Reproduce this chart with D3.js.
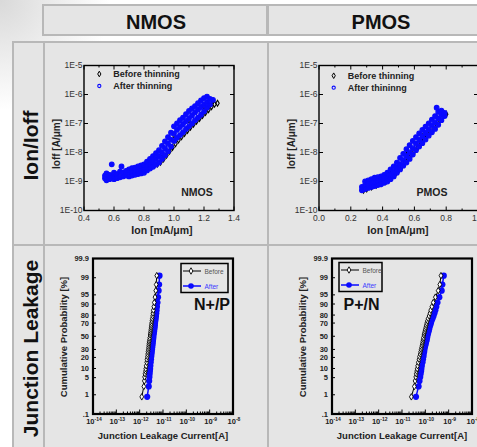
<!DOCTYPE html>
<html>
<head>
<meta charset="utf-8">
<script src="https://cdn.jsdelivr.net/npm/d3@7"></script>
<style>
body { margin: 0; background: #fff; }
svg { display: block; font-family: "Liberation Sans", Arial, sans-serif; }
</style>
</head>
<body>
<div id="main"></div>
<script>
var width = 477,
    height = 447;

// table headers
var columns = ["NMOS", "PMOS"];
var rows = ["Ion/Ioff", "Junction Leakage"];

// Ion/Ioff scatter: [Ion mA/um, Ioff A/um]
var nmosAfter = [
  [0.54,1.3e-9],[0.54,1.6e-9],[0.55,1.1e-9],[0.55,1.5e-9],[0.55,1.9e-9],
  [0.57,1.2e-9],[0.57,1.7e-9],[0.58,1.4e-9],[0.585,3.9e-9],
  [0.60,1.2e-9],[0.60,1.6e-9],[0.60,2.0e-9],[0.62,1.3e-9],[0.62,1.8e-9],
  [0.64,1.4e-9],[0.64,2.2e-9],[0.65,3.3e-9],[0.66,1.5e-9],[0.66,2.0e-9],
  [0.68,1.6e-9],[0.68,2.3e-9],[0.70,1.5e-9],[0.70,1.9e-9],[0.70,2.6e-9],
  [0.72,1.6e-9],[0.72,2.1e-9],[0.72,2.9e-9],[0.74,1.7e-9],[0.74,2.3e-9],[0.74,3.0e-9],
  [0.76,1.8e-9],[0.76,2.4e-9],[0.76,3.3e-9],[0.78,1.9e-9],[0.78,2.6e-9],[0.78,3.6e-9],
  [0.80,2.0e-9],[0.80,2.8e-9],[0.80,3.9e-9],[0.82,2.4e-9],[0.82,3.4e-9],[0.82,4.8e-9],
  [0.84,2.8e-9],[0.84,4.2e-9],[0.84,6.0e-9],[0.86,3.2e-9],[0.86,5.0e-9],[0.86,7.5e-9],
  [0.88,3.8e-9],[0.88,6.0e-9],[0.88,9.5e-9],[0.90,4.5e-9],[0.90,7.5e-9],[0.90,1.2e-8],
  [0.92,6.0e-9],[0.92,1.0e-8],[0.92,1.7e-8],[0.94,8.0e-9],[0.94,1.4e-8],[0.94,2.4e-8],
  [0.96,1.1e-8],[0.96,2.0e-8],[0.96,3.4e-8],[0.98,1.6e-8],[0.98,2.8e-8],[0.98,4.8e-8],
  [1.00,2.5e-8],[1.00,4.5e-8],[1.00,8.0e-8],[1.02,3.2e-8],[1.02,6.0e-8],[1.02,1.0e-7],
  [1.04,4.0e-8],[1.04,7.5e-8],[1.04,1.3e-7],[1.06,5.0e-8],[1.06,9.5e-8],[1.06,1.6e-7],
  [1.08,6.5e-8],[1.08,1.2e-7],[1.08,2.1e-7],[1.10,8.0e-8],[1.10,1.5e-7],[1.10,2.7e-7],
  [1.12,1.0e-7],[1.12,1.9e-7],[1.12,3.3e-7],[1.14,1.3e-7],[1.14,2.4e-7],[1.14,4.0e-7],
  [1.16,1.6e-7],[1.16,3.0e-7],[1.16,5.0e-7],[1.18,2.0e-7],[1.18,3.7e-7],[1.18,6.2e-7],
  [1.20,2.6e-7],[1.20,4.5e-7],[1.20,7.5e-7],[1.22,3.5e-7],[1.22,5.5e-7],[1.22,8.5e-7],
  [1.24,4.5e-7],[1.24,7.0e-7],[1.26,6.5e-7]
];
var nmosBefore = [
  [0.55,1.4e-9],[0.58,1.5e-9],[0.61,1.5e-9],[0.64,1.6e-9],[0.67,1.7e-9],
  [0.70,1.8e-9],[0.73,1.9e-9],[0.76,2.0e-9],[0.79,2.3e-9],[0.82,2.7e-9],[0.85,3.3e-9],
  [0.87,3.8e-9],[0.89,4.0e-9],[0.91,4.6e-9],[0.93,6.0e-9],[0.95,8.0e-9],[0.97,1.1e-8],
  [0.99,1.5e-8],[1.01,2.0e-8],[1.03,2.7e-8],[1.05,3.5e-8],[1.07,4.5e-8],[1.09,5.8e-8],
  [1.11,7.5e-8],[1.13,9.5e-8],[1.15,1.2e-7],[1.17,1.5e-7],[1.19,1.9e-7],[1.21,2.4e-7],
  [1.23,3.0e-7],[1.25,3.8e-7],[1.27,4.6e-7],[1.29,5.0e-7],[1.26,6.0e-7],
  [0.92,9.0e-9],[1.00,4.0e-8],[1.10,1.3e-7],[1.20,4.0e-7]
];
var pmosAfter = [
  [0.27,5.0e-10],[0.27,6.5e-10],[0.29,5.5e-10],[0.29,7.5e-10],[0.29,1.0e-9],
  [0.31,6.0e-10],[0.31,8.0e-10],[0.31,1.1e-9],[0.33,6.5e-10],[0.33,9.0e-10],[0.33,1.2e-9],
  [0.35,7.0e-10],[0.35,1.0e-9],[0.35,1.35e-9],[0.37,7.5e-10],[0.37,1.05e-9],[0.37,1.4e-9],
  [0.39,8.0e-10],[0.39,1.1e-9],[0.39,1.5e-9],[0.41,9.0e-10],[0.41,1.2e-9],[0.41,1.7e-9],
  [0.43,1.0e-9],[0.43,1.4e-9],[0.43,2.0e-9],[0.45,1.2e-9],[0.45,1.7e-9],[0.45,2.6e-9],
  [0.47,1.5e-9],[0.47,2.2e-9],[0.47,3.3e-9],[0.49,2.0e-9],[0.49,3.0e-9],[0.49,4.5e-9],
  [0.51,2.6e-9],[0.51,4.0e-9],[0.51,6.5e-9],[0.53,3.5e-9],[0.53,5.5e-9],[0.53,9.0e-9],
  [0.55,4.5e-9],[0.55,7.5e-9],[0.55,1.3e-8],[0.57,6.0e-9],[0.57,1.0e-8],[0.57,1.8e-8],
  [0.59,8.5e-9],[0.59,1.4e-8],[0.59,2.5e-8],[0.61,1.2e-8],[0.61,2.0e-8],[0.61,3.4e-8],
  [0.63,1.6e-8],[0.63,2.7e-8],[0.63,4.6e-8],[0.65,2.1e-8],[0.65,3.6e-8],[0.65,6.0e-8],
  [0.67,2.8e-8],[0.67,4.7e-8],[0.67,7.8e-8],[0.69,3.8e-8],[0.69,6.3e-8],[0.69,1.0e-7],
  [0.71,5.0e-8],[0.71,8.5e-8],[0.71,1.35e-7],[0.73,6.5e-8],[0.73,1.1e-7],[0.73,1.8e-7],
  [0.75,9.0e-8],[0.75,1.5e-7],[0.75,2.5e-7],[0.74,3.5e-7],
  [0.77,1.3e-7],[0.77,2.0e-7],[0.77,2.8e-7],[0.79,1.8e-7],[0.79,2.3e-7]
];
var pmosBefore = [
  [0.28,5.0e-10],[0.30,5.5e-10],[0.33,6.5e-10],[0.36,7.5e-10],[0.39,8.5e-10],[0.42,1.0e-9],
  [0.45,1.3e-9],[0.48,1.8e-9],[0.50,2.4e-9],[0.52,3.2e-9],[0.54,4.5e-9],[0.56,6.0e-9],
  [0.58,8.0e-9],[0.60,1.1e-8],[0.62,1.5e-8],[0.64,2.0e-8],[0.66,2.7e-8],[0.68,3.6e-8],
  [0.70,4.8e-8],[0.72,6.5e-8],[0.74,9.0e-8],[0.76,1.3e-7],[0.78,1.8e-7],[0.80,2.1e-7],
  [0.45,1.8e-9],[0.55,8.0e-9],[0.65,3.5e-8],[0.75,2.0e-7]
];

// junction leakage: cumulative probability [%] and current [A]
var probs = [0.8, 2.3, 3.8, 5.3, 6.8, 8.3, 9.8, 12, 15, 18, 21, 24, 27, 30, 33, 36, 39, 42, 45, 48,
             52, 55, 58, 61, 64, 67, 70, 73, 76, 79, 82, 85, 88, 91, 94, 96.5, 98, 99.2];
var npBefore = [1.23e-12, 1.51e-12, 1.58e-12, 1.62e-12, 1.70e-12, 1.78e-12, 1.82e-12, 1.9e-12, 2.0e-12, 2.05e-12,
                2.15e-12, 2.2e-12, 2.27e-12, 2.35e-12, 2.4e-12, 2.45e-12, 2.5e-12, 2.57e-12, 2.66e-12, 2.72e-12,
                2.8e-12, 2.88e-12, 2.95e-12, 3.02e-12, 3.1e-12, 3.16e-12, 3.24e-12, 3.35e-12, 3.47e-12, 3.6e-12,
                3.7e-12, 3.85e-12, 4.05e-12, 4.25e-12, 4.55e-12, 4.9e-12, 5.1e-12, 5.4e-12];
var npAfter = [2.1e-12, 2.45e-12, 2.55e-12, 2.62e-12, 2.68e-12, 2.74e-12, 2.8e-12, 2.88e-12, 2.97e-12, 3.06e-12,
               3.14e-12, 3.22e-12, 3.3e-12, 3.38e-12, 3.45e-12, 3.52e-12, 3.6e-12, 3.68e-12, 3.76e-12, 3.85e-12,
               3.95e-12, 4.05e-12, 4.15e-12, 4.25e-12, 4.35e-12, 4.45e-12, 4.55e-12, 4.7e-12, 4.85e-12, 5.0e-12,
               5.15e-12, 5.3e-12, 5.5e-12, 5.8e-12, 6.1e-12, 6.5e-12, 6.8e-12, 7.1e-12];
var pnBefore = [2.51e-11, 3.39e-11, 3.63e-11, 3.89e-11, 4.07e-11, 4.27e-11, 4.47e-11, 4.68e-11, 5.01e-11, 5.37e-11,
                5.62e-11, 6.03e-11, 6.31e-11, 6.61e-11, 6.92e-11, 7.24e-11, 7.59e-11, 7.76e-11, 8.13e-11, 8.32e-11,
                8.71e-11, 9.12e-11, 9.55e-11, 1.0e-10, 1.05e-10, 1.10e-10, 1.15e-10, 1.23e-10, 1.32e-10, 1.45e-10,
                1.58e-10, 1.70e-10, 1.91e-10, 2.19e-10, 2.69e-10, 3.55e-10, 4.17e-10, 4.68e-10];
var pnAfter = [3.98e-11, 5.13e-11, 5.62e-11, 6.03e-11, 6.31e-11, 6.61e-11, 6.76e-11, 7.08e-11, 7.59e-11, 7.94e-11,
               8.32e-11, 8.51e-11, 8.91e-11, 9.12e-11, 9.55e-11, 1.0e-10, 1.05e-10, 1.10e-10, 1.15e-10, 1.20e-10,
               1.26e-10, 1.32e-10, 1.38e-10, 1.45e-10, 1.51e-10, 1.62e-10, 1.74e-10, 1.86e-10, 2.04e-10, 2.24e-10,
               2.45e-10, 2.69e-10, 2.95e-10, 3.31e-10, 3.98e-10, 5.01e-10, 5.37e-10, 6.17e-10];

var probTicks = [0.1, 1, 5, 10, 20, 30, 50, 70, 80, 90, 95, 99, 99.9];
var probTickLabels = [".1", "1", "5", "10", "20", "30", "50", "70", "80", "90", "95", "99", "99.9"];

var BLUE = "#0a0aff";

var svg = d3.select("div#main").append("svg")
    .attr("width", width)
    .attr("height", height);

// faint shading in the top left corner
var defs = svg.append("defs");
var rg = defs.append("radialGradient").attr("id", "corner")
    .attr("gradientUnits", "userSpaceOnUse")
    .attr("cx", 0).attr("cy", 0).attr("r", 110);
rg.append("stop").attr("offset", "0%").attr("stop-color", "#d9d9d9");
rg.append("stop").attr("offset", "100%").attr("stop-color", "#fff");
svg.append("rect").attr("width", width).attr("height", height).attr("fill", "url(#corner)");

// table cells
var colX = [44, 268, 500],
    rowY = [42, 245, 452];

function cell(x, y, w, h) {
    svg.append("rect")
        .attr("x", x).attr("y", y).attr("width", w).attr("height", h)
        .attr("fill", "#e5e5e5")
        .attr("stroke", "#b8b8b8")
        .attr("stroke-width", 2);
}

columns.forEach(function(c, i) {
    cell(colX[i] - (i == 0 ? 1 : 0), 5, colX[i + 1] - colX[i], 30);
    svg.append("text")
        .attr("x", (colX[i] + Math.min(colX[i + 1], 494)) / 2)
        .attr("y", 29)
        .attr("text-anchor", "middle")
        .attr("font-size", 20)
        .attr("font-weight", "bold")
        .attr("fill", "#111")
        .text(c);
});

rows.forEach(function(r, j) {
    cell(13, rowY[j], 31, rowY[j + 1] - rowY[j]);
    columns.forEach(function(c, i) {
        cell(colX[i], rowY[j], colX[i + 1] - colX[i], rowY[j + 1] - rowY[j]);
    });
    svg.append("text")
        .attr("transform", "translate(37.5," + ((rowY[j] + Math.min(rowY[j + 1], 448)) / 2 + 2) + ") rotate(-90)")
        .attr("text-anchor", "middle")
        .attr("font-size", 21)
        .attr("font-weight", "bold")
        .attr("fill", "#111")
        .text(r);
});

var diamond = d3.symbol().type(d3.symbolDiamond);

// ---------- Ion / Ioff scatter panels ----------

function scatterPanel(o) {
    var x = d3.scaleLinear().domain(o.xDomain).range([o.left, o.right]);
    var y = d3.scaleLog().domain([1e-10, 1e-5]).range([o.bottom, o.top]);
    var g = svg.append("g");

    var xt = d3.range(o.xDomain[0], o.xDomain[1] + 0.001, 0.1);
    xt.forEach(function(v, i) {
        var len = (i % 2 == 0) ? 4 : 2;
        g.append("line").attr("x1", x(v)).attr("x2", x(v)).attr("y1", o.bottom).attr("y2", o.bottom - len)
            .attr("stroke", "#000");
        g.append("line").attr("x1", x(v)).attr("x2", x(v)).attr("y1", o.top).attr("y2", o.top + len)
            .attr("stroke", "#000");
    });
    var yt = y.ticks().filter(function(d) { return Math.abs(Math.log10(d) % 1) < 1e-6; });
    yt.forEach(function(v) {
        g.append("line").attr("x1", o.left).attr("x2", o.left + 4).attr("y1", y(v)).attr("y2", y(v))
            .attr("stroke", "#000");
        g.append("line").attr("x1", o.right).attr("x2", o.right - 4).attr("y1", y(v)).attr("y2", y(v))
            .attr("stroke", "#000");
    });

    g.append("rect")
        .attr("x", o.left).attr("y", o.top)
        .attr("width", o.right - o.left).attr("height", o.bottom - o.top)
        .attr("fill", "none").attr("stroke", "#000").attr("stroke-width", 1.4);

    g.selectAll(".lx").data(xt.filter(function(d, i) { return i % 2 == 0; }))
        .enter().append("text")
        .attr("x", function(d) { return x(d); })
        .attr("y", o.bottom + 10.5)
        .attr("text-anchor", "middle")
        .attr("font-size", 8.5)
        .attr("fill", "#333")
        .text(d3.format(".1f"));

    g.selectAll(".ly").data(yt)
        .enter().append("text")
        .attr("x", o.left - 1.5)
        .attr("y", function(d) { return y(d); })
        .attr("dy", "0.35em")
        .attr("text-anchor", "end")
        .attr("font-size", 8.5)
        .attr("fill", "#333")
        .text(function(d) { return "1E" + Math.round(Math.log10(d)); });

    g.selectAll(".bef").data(o.before)
        .enter().append("path")
        .attr("d", diamond.size(10))
        .attr("transform", function(d) { return "translate(" + x(d[0]) + "," + y(d[1]) + ")"; })
        .attr("fill", "none")
        .attr("stroke", "#000")
        .attr("stroke-width", 1.1);

    // dense open circles read as a solid band, so fill them
    g.selectAll(".aft").data(o.after)
        .enter().append("circle")
        .attr("cx", function(d) { return x(d[0]); })
        .attr("cy", function(d) { return y(d[1]); })
        .attr("r", 2.3)
        .attr("fill", BLUE)
        .attr("stroke", BLUE)
        .attr("stroke-width", 1.2);

    // legend
    g.append("path").attr("d", diamond.size(9))
        .attr("transform", "translate(" + o.legX + "," + o.legY + ")")
        .attr("fill", "none").attr("stroke", "#000").attr("stroke-width", 1);
    g.append("circle").attr("cx", o.legX).attr("cy", o.legY + 12).attr("r", 1.6)
        .attr("fill", "none").attr("stroke", BLUE).attr("stroke-width", 1.1);
    [o.legBefore, o.legAfter].forEach(function(t, i) {
        g.append("text")
            .attr("x", o.legX + 14).attr("y", o.legY + 12 * i + 3)
            .attr("font-size", 9).attr("font-weight", "bold").attr("fill", "#222")
            .text(t);
    });

    g.append("text")
        .attr("x", o.tagX).attr("y", o.bottom - 15)
        .attr("text-anchor", "middle")
        .attr("font-size", 10.5).attr("font-weight", "bold").attr("fill", "#222")
        .text(o.tag);

    g.append("text")
        .attr("transform", "translate(" + (o.left - 24.5) + ",144) rotate(-90)")
        .attr("text-anchor", "middle")
        .attr("font-size", 10).attr("font-weight", "bold").attr("fill", "#222")
        .text("Ioff [A/\u03bcm]");

    g.append("text")
        .attr("x", o.titleX).attr("y", 234)
        .attr("text-anchor", "middle")
        .attr("font-size", 10.5).attr("font-weight", "bold").attr("fill", "#222")
        .text("Ion [mA/\u03bcm]");
}

scatterPanel({ left: 84, right: 234, top: 65.5, bottom: 210.5, xDomain: [0.4, 1.4],
    before: nmosBefore, after: nmosAfter, legX: 99.3, legY: 74,
    legBefore: "Before thinning", legAfter: "After thinning",
    tag: "NMOS", tagX: 197, titleX: 162 });
scatterPanel({ left: 319, right: 478, top: 65.5, bottom: 210.5, xDomain: [0.0, 1.0],
    before: pmosBefore, after: pmosAfter, legX: 333.7, legY: 75.7,
    legBefore: "Before thinning", legAfter: "After thininng",
    tag: "PMOS", tagX: 432, titleX: 398 });

// ---------- junction leakage probability panels ----------

// inverse of the normal cdf (Acklam), for the probability axis
function probit(p) {
    var a = [-3.969683028665376e+01, 2.209460984245205e+02, -2.759285104469687e+02, 1.383577518672690e+02, -3.066479806614716e+01, 2.506628277459239e+00];
    var b = [-5.447609879822406e+01, 1.615858368580409e+02, -1.556989798598866e+02, 6.680131188771972e+01, -1.328068155288572e+01];
    var c = [-7.784894002430293e-03, -3.223964580411365e-01, -2.400758277161838e+00, -2.549732539343734e+00, 4.374664141464968e+00, 2.938163982698783e+00];
    var d = [7.784695709041462e-03, 3.224671290700398e-01, 2.445134137142996e+00, 3.754408661907416e+00];
    var pl = 0.02425, q, r;
    if (p < pl) {
        q = Math.sqrt(-2 * Math.log(p));
        return (((((c[0]*q+c[1])*q+c[2])*q+c[3])*q+c[4])*q+c[5]) / ((((d[0]*q+d[1])*q+d[2])*q+d[3])*q+1);
    }
    if (p > 1 - pl) {
        q = Math.sqrt(-2 * Math.log(1 - p));
        return -(((((c[0]*q+c[1])*q+c[2])*q+c[3])*q+c[4])*q+c[5]) / ((((d[0]*q+d[1])*q+d[2])*q+d[3])*q+1);
    }
    q = p - 0.5; r = q * q;
    return (((((a[0]*r+a[1])*r+a[2])*r+a[3])*r+a[4])*r+a[5])*q / (((((b[0]*r+b[1])*r+b[2])*r+b[3])*r+b[4])*r+1);
}

function probPanel(o) {
    var x = d3.scaleLog().domain([1e-14, 1e-8]).range([o.left, o.right]);
    var y = d3.scaleLinear().domain([probit(0.001), probit(0.999)]).range([o.bottom, o.top]);
    var py = function(p) { return y(probit(p / 100)); };
    var g = svg.append("g");

    // minor + major ticks on the current axis
    d3.range(-14, -8).forEach(function(e) {
        d3.range(1, 10).forEach(function(m) {
            var v = m * Math.pow(10, e);
            var len = m == 1 ? 4.5 : 2.5;
            g.append("line").attr("x1", x(v)).attr("x2", x(v))
                .attr("y1", o.bottom).attr("y2", o.bottom - len)
                .attr("stroke", "#000").attr("stroke-width", 1);
        });
    });
    probTicks.forEach(function(p) {
        g.append("line").attr("x1", o.left).attr("x2", o.left + 3)
            .attr("y1", py(p)).attr("y2", py(p)).attr("stroke", "#000");
    });

    g.append("rect")
        .attr("x", o.left).attr("y", o.top)
        .attr("width", o.right - o.left).attr("height", o.bottom - o.top)
        .attr("fill", "none").attr("stroke", "#000").attr("stroke-width", 2.2);

    g.selectAll(".ly").data(probTicks)
        .enter().append("text")
        .attr("x", o.left - 4)
        .attr("y", function(d) { return py(d); })
        .attr("dy", "0.35em")
        .attr("text-anchor", "end")
        .attr("font-size", 7.5).attr("font-weight", "bold").attr("fill", "#222")
        .text(function(d, i) { return probTickLabels[i]; });

    d3.range(-14, -7).forEach(function(e) {
        var t = g.append("text")
            .attr("x", x(Math.pow(10, e)) + 1)
            .attr("y", o.bottom + 10)
            .attr("text-anchor", "middle")
            .attr("font-weight", "bold").attr("fill", "#222");
        t.append("tspan").attr("font-size", 7.5).text("10");
        t.append("tspan").attr("font-size", 5).attr("dy", -3.5).text(e);
    });

    var line = d3.line()
        .x(function(d) { return x(d[0]); })
        .y(function(d) { return py(d[1]); });

    var after = d3.zip(o.after, probs),
        before = d3.zip(o.before, probs);

    g.append("path").datum(after).attr("d", line)
        .attr("fill", "none").attr("stroke", BLUE).attr("stroke-width", 1.5);
    g.selectAll(".aft").data(after)
        .enter().append("circle")
        .attr("cx", function(d) { return x(d[0]); })
        .attr("cy", function(d) { return py(d[1]); })
        .attr("r", 3.1)
        .attr("fill", BLUE);

    g.append("path").datum(before).attr("d", line)
        .attr("fill", "none").attr("stroke", "#000").attr("stroke-width", 1);
    g.selectAll(".bef").data(before)
        .enter().append("path")
        .attr("d", diamond.size(12))
        .attr("transform", function(d) { return "translate(" + x(d[0]) + "," + py(d[1]) + ")"; })
        .attr("fill", "#fff").attr("stroke", "#000").attr("stroke-width", 0.9);

    // legend box
    var lb = o.leg;
    g.append("rect").attr("x", lb.x).attr("y", lb.y).attr("width", lb.w).attr("height", lb.h)
        .attr("fill", "none").attr("stroke", "#000").attr("stroke-width", 1.5);
    g.append("line").attr("x1", lb.x + 2).attr("x2", lb.x + 20).attr("y1", lb.y + 7.5).attr("y2", lb.y + 7.5)
        .attr("stroke", "#000");
    g.append("path").attr("d", diamond.size(12))
        .attr("transform", "translate(" + (lb.x + 10) + "," + (lb.y + 7.5) + ")")
        .attr("fill", "#fff").attr("stroke", "#000").attr("stroke-width", 0.9);
    g.append("line").attr("x1", lb.x + 2).attr("x2", lb.x + 20).attr("y1", lb.y + 22.5).attr("y2", lb.y + 22.5)
        .attr("stroke", BLUE).attr("stroke-width", 1.5);
    g.append("circle").attr("cx", lb.x + 10).attr("cy", lb.y + 22.5).attr("r", 2.8).attr("fill", BLUE);
    g.append("text").attr("x", lb.x + 23.5).attr("y", lb.y + 10).attr("font-size", 6.5).attr("fill", "#555")
        .text("Before");
    g.append("text").attr("x", lb.x + 23.5).attr("y", lb.y + 25).attr("font-size", 6.5).attr("fill", "#3a3aff")
        .text("After");

    g.append("text")
        .attr("x", o.tagX).attr("y", 310)
        .attr("font-size", 16).attr("font-weight", "bold").attr("fill", "#111")
        .text(o.tag);

    g.append("text")
        .attr("transform", "translate(" + o.yTitleX + ",337) rotate(-90)")
        .attr("text-anchor", "middle")
        .attr("font-size", 9.5).attr("font-weight", "bold").attr("fill", "#222")
        .text("Cumulative  Probability [%]");

    g.append("text")
        .attr("x", (o.left + o.right) / 2).attr("y", 439)
        .attr("text-anchor", "middle")
        .attr("font-size", 9.5).attr("font-weight", "bold").attr("fill", "#222")
        .text("Junction Leakage Current[A]");
}

probPanel({ left: 93, right: 233, top: 258.5, bottom: 414, before: npBefore, after: npAfter,
    leg: { x: 181, y: 263.5, w: 47, h: 29 }, tag: "N+/P", tagX: 194, yTitleX: 67 });
probPanel({ left: 332, right: 472, top: 258.5, bottom: 414, before: pnBefore, after: pnAfter,
    leg: { x: 339, y: 262.5, w: 43, h: 29 }, tag: "P+/N", tagX: 343.5, yTitleX: 306 });
</script>
</body>
</html>
